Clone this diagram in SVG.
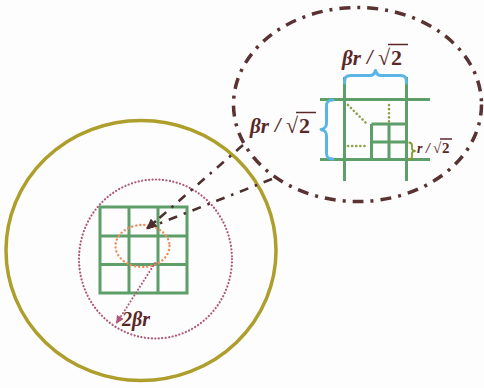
<svg xmlns="http://www.w3.org/2000/svg" width="484" height="388" viewBox="0 0 484 388">
<defs>
<style>
.gold{fill:none;stroke:#ae9e2c;stroke-width:3.5}
.pinkdot{fill:none;stroke:#b0587a;stroke-width:2.2;stroke-dasharray:0.1 3.4;stroke-linecap:round}
.orangedot{fill:none;stroke:#f08a5a;stroke-width:2.4;stroke-dasharray:0.1 4;stroke-linecap:round}
.grid{fill:none;stroke:#5e9e68;stroke-width:3;stroke-linecap:butt}
.gdot{fill:none;stroke:#8ca24a;stroke-width:2.6;stroke-dasharray:0.1 4;stroke-linecap:round}
.dashdot{fill:none;stroke:#5a3232;stroke-width:3.5;stroke-dasharray:11 7 3 7}
.conn{fill:none;stroke:#4e2e2e;stroke-width:2.6;stroke-dasharray:9 7 2.5 7}
.brace{fill:none;stroke:#5ab4e6;stroke-width:3;stroke-linecap:round;stroke-linejoin:round}
.obrace{fill:none;stroke:#8a9a30;stroke-width:1.8;stroke-linejoin:round}
.lbl{font-family:"Liberation Serif","DejaVu Serif",serif;fill:#5a2828;font-weight:bold}
.it{font-style:italic}
.rad{font-family:"Liberation Serif","DejaVu Serif",serif;fill:#5a2828;font-weight:normal}
.ov{stroke:#5a2828;stroke-width:1.5}
</style>
<marker id="ah" viewBox="0 0 10 10" refX="9" refY="5" markerWidth="4" markerHeight="4" orient="auto">
<path d="M0,0 L10,5 L0,10 z" fill="#4e2e2e"/>
</marker>
<marker id="pah" viewBox="0 0 10 10" refX="9" refY="5" markerWidth="4" markerHeight="4" orient="auto">
<path d="M0,0 L10,5 L0,10 z" fill="#b0587a"/>
</marker>
</defs>
<rect width="484" height="388" fill="#fdfdfd"/>

<g id="outer-circle">
<ellipse class="gold" cx="141" cy="250.5" rx="135" ry="130"/>
</g>
<g id="range-circle">
<ellipse class="pinkdot" cx="155.5" cy="259" rx="76.5" ry="79.5"/>
</g>
<g id="cell-grid">
<path class="grid" d="M100,207H187M100,236H187M100,264.5H187M100,293H187M100,205.5V294.5M129,205.5V294.5M158,205.5V294.5M187,205.5V294.5"/>
</g>
<g id="inner-circle">
<ellipse class="orangedot" cx="142.5" cy="246" rx="27" ry="21"/>
</g>
<g id="radius-label">
<text class="lbl it" x="122" y="326" font-size="20">2βr</text>
</g>

<g id="zoom-ellipse">
<ellipse class="dashdot" cx="357.5" cy="104.5" rx="124" ry="97"/>
</g>
<g id="zoom-detail">
<path class="grid" d="M320,99.5H430M320,159.5H430M344.5,77V181M406.5,77V181"/>
<path class="grid" d="M371.5,124H406.5M371.5,142H406.5M371.5,124V159.5M389,124V159.5"/>
<path class="gdot" d="M348,105L366,123M389,105V122M348,146H365"/>
<path class="brace" d="M344.5,83C344.5,77 346,75.5 351,75.5H370C373,75.5 374.5,74 375.5,70.5C376.5,74 378,75.5 381,75.5H400C405,75.5 406.5,77 406.5,83"/>
<path class="brace" d="M333,100C328,100 326.5,101.5 326.5,106V123C326.5,127 325,128.5 321,129.5C325,130.5 326.5,132 326.5,136V153C326.5,157.5 328,159 333,159"/>
<path class="obrace" d="M408.5,142.5C411,142.5 412,143.5 412,145.5V148.5C412,150 413,150.8 415,151C413,151.2 412,152 412,153.5V156.5C412,158.5 411,159.5 408.5,159.5"/>
</g>
<g id="label-top">
<text class="lbl it" x="342" y="65" font-size="21">βr</text>
<text class="lbl it" x="367" y="64" font-size="20">/</text>
<text class="rad" x="378" y="65" font-size="22">√</text>
<text class="lbl" x="391" y="65" font-size="22">2</text>
<line class="ov" x1="388" y1="44.5" x2="408" y2="44.5"/>
</g>
<g id="label-left">
<text class="lbl it" x="250" y="133" font-size="21">βr</text>
<text class="lbl it" x="275" y="132" font-size="20">/</text>
<text class="rad" x="286" y="133" font-size="22">√</text>
<text class="lbl" x="299" y="133" font-size="22">2</text>
<line class="ov" x1="296" y1="112.5" x2="316" y2="112.5"/>
</g>
<g id="label-small">
<text class="lbl it" x="417" y="153" font-size="14">r</text>
<text class="lbl it" x="426" y="153" font-size="14">/</text>
<text class="rad" x="433" y="153" font-size="15">√</text>
<text class="lbl" x="442" y="153" font-size="15">2</text>
<line class="ov" x1="440" y1="139" x2="452" y2="139" stroke-width="1.1"/>
</g>

<g id="connectors">
<path class="conn" d="M243,145L148,228"/>
<path class="conn" d="M272,179L148,228"/>
<path d="M156,221L147,228.5" stroke="#4e2e2e" stroke-width="2.6" marker-end="url(#ah)" fill="none"/>
<path d="M155,263L118,321" stroke="#b0587a" stroke-width="2" stroke-dasharray="0.1 3.4" stroke-linecap="round" fill="none"/>
<path d="M120,317.5L116.5,323" stroke="#b0587a" stroke-width="2" marker-end="url(#pah)" fill="none"/>
</g>
</svg>
